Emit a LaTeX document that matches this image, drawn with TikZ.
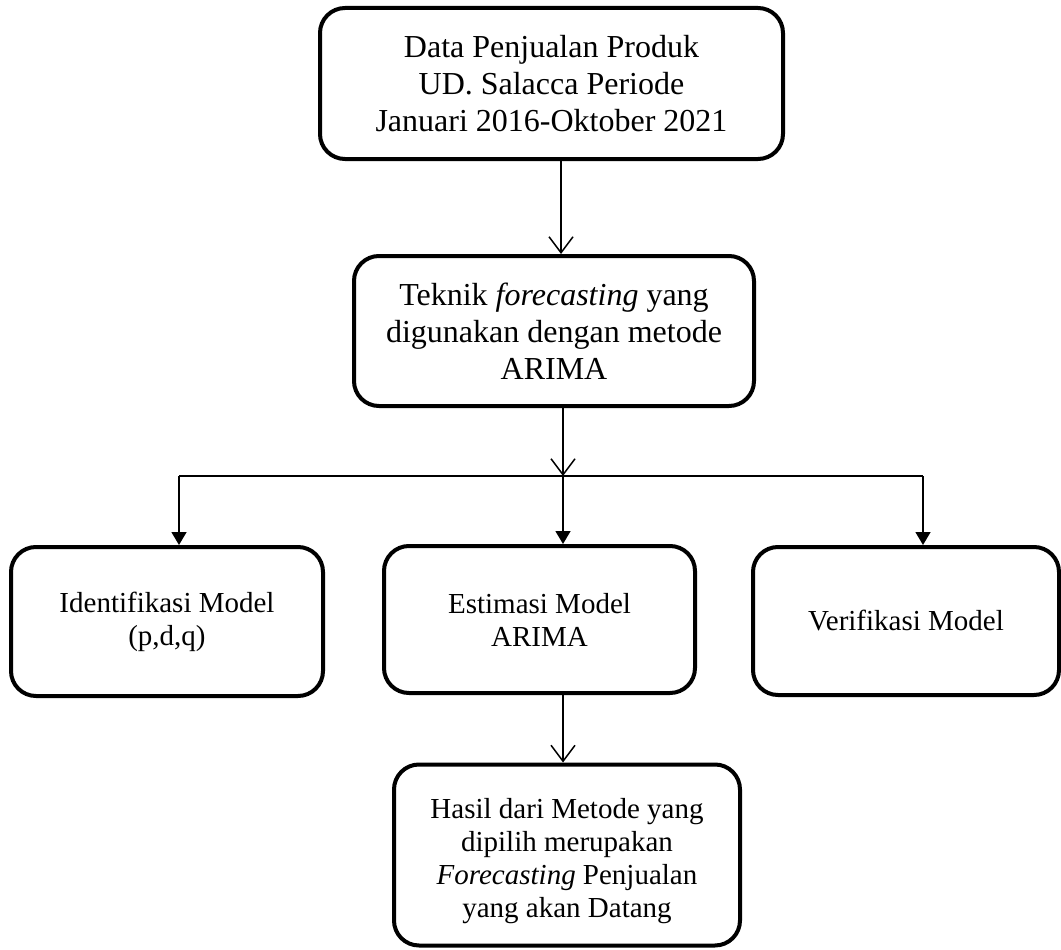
\documentclass[tikz,border=0pt]{standalone}
\usepackage{fontspec}
\setmainfont{Liberation Serif}
\usetikzlibrary{arrows.meta}
\begin{document}
\begin{tikzpicture}[x=1pt,y=-1pt,
  box/.style={draw, line width=4pt, rounded corners=25pt, align=center, inner sep=0pt, fill=white},
  bigtext/.style={font=\fontsize{32}{37}\selectfont},
  smalltext/.style={font=\fontsize{29}{33}\selectfont},
  conn/.style={line width=1.5pt},
  openarrow/.style={conn, -{Straight Barb[length=16pt,width=24pt]}},
  filledarrow/.style={conn, -{Triangle[length=13pt,width=15pt]}}
]
\useasboundingbox (0,0) rectangle (1061,950);
\node[box,bigtext,minimum width=463pt,minimum height=151pt] (b1) at (551.5,83.5)
  {Data Penjualan Produk\\UD. Salacca Periode\\Januari 2016-Oktober 2021};
\node[box,bigtext,minimum width=400pt,minimum height=150pt] (b2) at (554,331)
  {Teknik \textit{forecasting} yang\\digunakan dengan metode\\ARIMA};
\node[box,smalltext,minimum width=312pt,minimum height=149pt] (b3) at (167,621.5)
  {Identifikasi Model\\(p,d,q)};
\node[box,smalltext,minimum width=311pt,minimum height=147pt] (b4) at (539.5,619.5)
  {Estimasi Model\\ARIMA};
\node[box,smalltext,minimum width=306pt,minimum height=148pt] (b5) at (906,621)
  {Verifikasi Model};
\node[box,minimum width=346pt,minimum height=181pt,
  label={[smalltext,align=center,inner sep=0pt,yshift=-6pt]center:Hasil dari Metode yang\\dipilih merupakan\\\textit{Forecasting} Penjualan\\yang akan Datang}] (b6) at (567,855) {};
\coordinate (c1) at (561,0);
\coordinate (hl) at (179,476);
\coordinate (hm) at (563,476);
\coordinate (hr) at (923,476);
\draw[openarrow] (b1.south -| c1) -- (b2.north -| c1);
\draw[openarrow] (b2.south -| hm) -- (hm);
\draw[conn] (hl) -- (hr);
\draw[filledarrow] (hl) -- (hl |- b3.north);
\draw[filledarrow] (hm) -- (hm |- b4.north);
\draw[filledarrow] (hr) -- (hr |- b5.north);
\draw[openarrow] (b4.south -| hm) -- (hm |- b6.north);
\end{tikzpicture}
\end{document}
